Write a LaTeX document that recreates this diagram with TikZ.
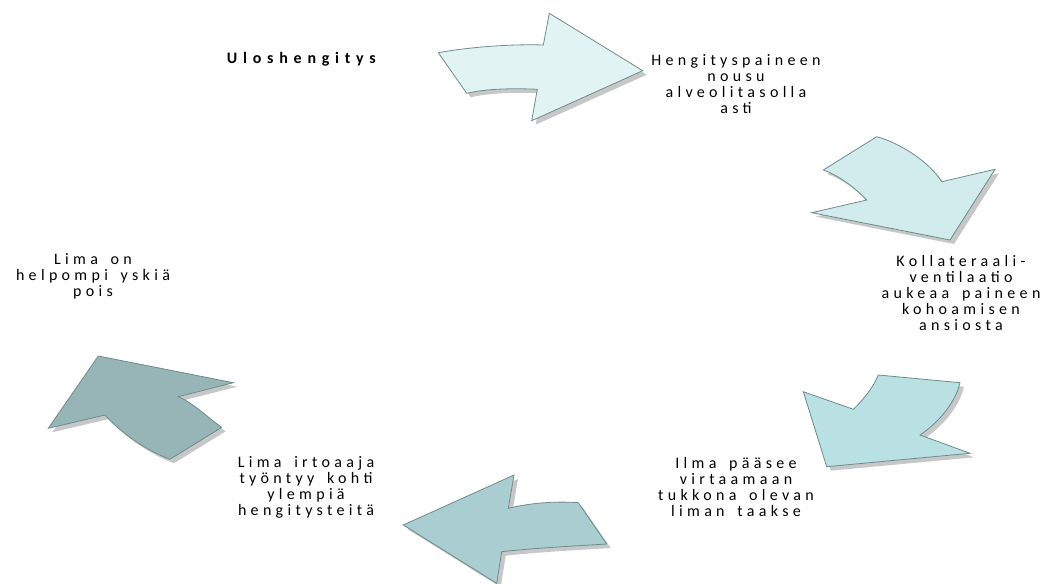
\documentclass[tikz,border=0pt]{standalone}
\usepackage{fontspec}
\setmainfont{Carlito}
\newfontfamily\lblfont[LetterSpace=27,WordSpace=1.6]{Carlito}
\newfontfamily\ttlfont[LetterSpace=36]{Carlito}
\usetikzlibrary{shadows}
\definecolor{arrline}{HTML}{6E8C8C}
\definecolor{stepa}{HTML}{E2F3F4}
\definecolor{stepb}{HTML}{D2EBED}
\definecolor{stepc}{HTML}{B9E0E3}
\definecolor{stepd}{HTML}{A9CDD0}
\definecolor{stepe}{HTML}{97B5B7}
\tikzset{
  cyclearrow/.style={draw=arrline, line width=0.6pt, line join=miter,
    drop shadow={shadow xshift=3pt, shadow yshift=-3pt, opacity=0.4, fill=black!55}},
  lbl/.style={align=center, inner sep=0pt, font=\lblfont\fontsize{12}{12}\selectfont}
}

\begin{document}
\begin{tikzpicture}[x=0.75pt,y=0.75pt,yscale=-1,xscale=1]
                \useasboundingbox (0,0) rectangle (1046,584);
                % arrows round the cycle
                \draw [cyclearrow, fill=stepa] (438.3,52.7) .. controls (470,47) and (510,44) .. (543.3,45) -- (549.3,13.3) -- (642.7,70.7) -- (531.7,120.7) -- (537.3,89.3) .. controls (510,88) and (485,89) .. (466.7,93.3) -- cycle ;
                \draw [cyclearrow, fill=stepb] (823.3,170) -- (876.7,136.7) .. controls (897,142) and (928,160) .. (941.7,181.7) -- (995,169.3) -- (950,240) -- (811.7,212.7) -- (866.7,200) .. controls (855,188) and (840,176) .. cycle ;
                \draw [cyclearrow, fill=stepc] (878.3,375) -- (960,382.7) .. controls (956,400) and (942,420) .. (920,435) -- (970,453.3) -- (826.7,466.7) -- (803.3,391.7) -- (853.3,409.3) .. controls (863,400) and (873,388) .. cycle ;
                \draw [cyclearrow, fill=stepd] (606.7,544) -- (578.3,502.7) .. controls (555,501) and (530,503) .. (508.3,508.3) -- (514,475) -- (403.3,525) -- (496.7,583.3) -- (501.7,551.7) .. controls (535,548) and (575,546) .. cycle ;
                \draw [cyclearrow, fill=stepe] (170,459.3) -- (221.7,427.3) .. controls (208,418) and (195,404) .. (178.3,396.7) -- (233.3,382.7) -- (98.3,356) -- (48.3,428.3) -- (105,415) .. controls (120,432) and (145,450) .. cycle ;
                % texts
                \draw (226.7,64) node (title) [anchor=base west, inner sep=0pt, font=\ttlfont\bfseries\fontsize{12}{14}\selectfont] {Uloshengitys};
                \draw (736,84.2) node (nousu) [lbl] {Hengityspaineen\\nousu\\alveolitasolla\\asti};
                \draw (961,292.8) node (kollat) [lbl] {Kollateraali-\\ventilaatio\\aukeaa paineen\\kohoamisen\\ansiosta};
                \draw (736,487.5) node (virtaus) [lbl] {Ilma pääsee\\virtaamaan\\tukkona olevan\\liman taakse};
                \draw (306,487.2) node (irtoaa) [lbl] {Lima irtoaaja\\työntyy kohti\\ylempiä\\hengitysteitä};
                \draw (93,276.3) node (yskos) [lbl] {Lima on\\helpompi yskiä\\pois};
\end{tikzpicture}
\end{document}
